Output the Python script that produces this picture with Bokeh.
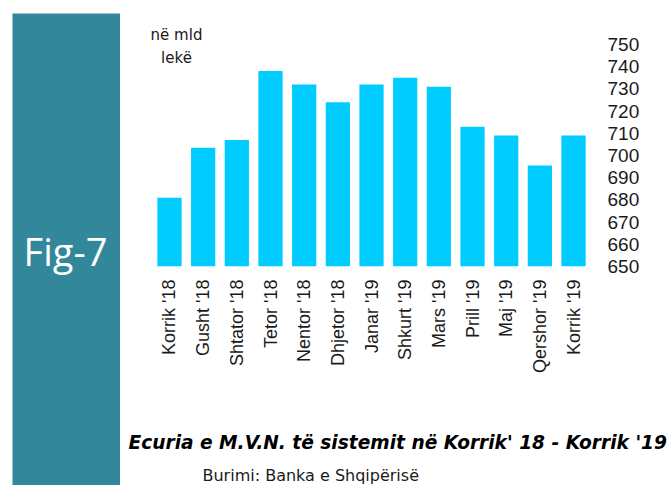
from bokeh.plotting import figure
from bokeh.models import Range1d, FixedTicker, Label
from bokeh.layouts import row, column
from bokeh.embed import file_html
from bokeh.resources import INLINE

months = ["Korrik '18", "Gusht '18", "Shtator '18", "Tetor '18", "Nentor '18",
          "Dhjetor '18", "Janar '19", "Shkurt '19", "Mars '19", "Prill '19",
          "Maj '19", "Qershor '19", "Korrik '19"]
values = [681, 703.5, 707, 738, 732, 724, 732, 735, 731, 713, 709, 695.5, 709]
y_ticks = [650, 660, 670, 680, 690, 700, 710, 720, 730, 740, 750]

BAR = "#00CCFF"
BAND = "#33879A"
TXT = "#1a1a1a"

positions = list(range(len(months)))

# ---- left teal band -------------------------------------------------------
band = figure(width=120, height=485, frame_width=108, frame_height=472,
              min_border_left=12, min_border_top=13, min_border_right=0,
              min_border_bottom=0, x_range=Range1d(0, 1), y_range=Range1d(0, 1),
              x_axis_location=None, y_axis_location=None,
              output_backend="svg", toolbar_location=None)
band.xgrid.visible = False
band.ygrid.visible = False
band.outline_line_color = None
band.background_fill_color = BAND
band.border_fill_color = "white"
band.add_layout(Label(x=53, y=235, x_units="screen", y_units="screen", text="Fig-7",
                      text_font="Open Sans", text_font_size="38px", text_color="white",
                      text_align="center", text_baseline="middle"))

# ---- main bar chart -------------------------------------------------------
p = figure(width=551, height=420, frame_width=450, frame_height=246,
           min_border_left=20, min_border_top=20, min_border_right=81,
           min_border_bottom=154,
           x_range=Range1d(-0.861, 12.504), y_range=Range1d(650, 760.8),
           output_backend="svg", toolbar_location=None,
           x_axis_location="below", y_axis_location="right")

p.vbar(x=positions, top=values, bottom=650, width=0.72, color=BAR, line_color=None)

p.xgrid.visible = False
p.ygrid.visible = False
p.outline_line_color = None
p.background_fill_color = "white"
p.border_fill_color = "white"

xa = p.xaxis[0]
xa.ticker = FixedTicker(ticks=positions)
xa.major_label_overrides = {i: m for i, m in zip(positions, months)}
xa.axis_line_color = None
xa.major_tick_line_color = None
xa.minor_tick_line_color = None
xa.major_tick_out = 0
xa.major_label_orientation = 1.5707963
xa.major_label_text_font = "Liberation Sans"
xa.major_label_text_font_size = "18px"
xa.major_label_text_color = TXT
xa.major_label_standoff = 13

ya = p.yaxis[0]
ya.ticker = FixedTicker(ticks=y_ticks)
ya.axis_line_color = None
ya.major_tick_line_color = None
ya.minor_tick_line_color = None
ya.major_tick_out = 0
ya.major_label_text_font = "Liberation Sans"
ya.major_label_text_font_size = "19px"
ya.major_label_text_color = TXT
ya.major_label_standoff = 17

p.add_layout(Label(x=36, y=232, x_units="screen", y_units="screen", text="në mld",
                   text_font="DejaVu Sans", text_font_size="15px", text_color=TXT,
                   text_align="center", text_baseline="middle"))
p.add_layout(Label(x=36, y=209, x_units="screen", y_units="screen", text="lekë",
                   text_font="DejaVu Sans", text_font_size="15px", text_color=TXT,
                   text_align="center", text_baseline="middle"))

# ---- caption strip --------------------------------------------------------
cap = figure(width=551, height=65, min_border_left=0, min_border_top=0,
             min_border_right=0, min_border_bottom=0,
             x_range=Range1d(0, 1), y_range=Range1d(0, 1),
             x_axis_location=None, y_axis_location=None,
             output_backend="svg", toolbar_location=None)
cap.xgrid.visible = False
cap.ygrid.visible = False
cap.outline_line_color = None
cap.background_fill_color = "white"
cap.border_fill_color = "white"
cap.add_layout(Label(x=8, y=43, x_units="screen", y_units="screen",
                     text="Ecuria e M.V.N. të sistemit në Korrik' 18  - Korrik '19",
                     text_font="DejaVu Sans", text_font_size="18.6px",
                     text_font_style="bold italic", text_color="black",
                     text_align="left", text_baseline="alphabetic"))
cap.add_layout(Label(x=82, y=10, x_units="screen", y_units="screen",
                     text="Burimi: Banka e Shqipërisë",
                     text_font="DejaVu Sans", text_font_size="16px", text_color=TXT,
                     text_align="left", text_baseline="alphabetic"))

layout = row(band, column(row(p), cap))
open("out.html", "w").write(file_html(layout, INLINE))
